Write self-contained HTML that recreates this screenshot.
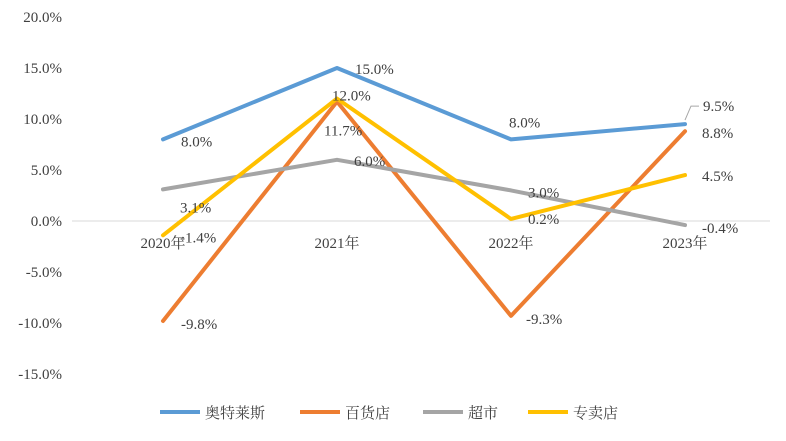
<!DOCTYPE html>
<html><head><meta charset="utf-8"><style>
body{margin:0;background:#fff;}
svg text{font-family:"Liberation Serif","Noto Serif CJK SC",serif;font-size:15px;fill:#404040;}
</style></head><body>
<svg id="c" width="786" height="436" xmlns="http://www.w3.org/2000/svg"></svg>
<script>
const categories=["2020年","2021年","2022年","2023年"];
const seriesNames=["奥特莱斯","百货店","超市","专卖店"];
const outlets=[8.0,15.0,8.0,9.5];
const depts=[-9.8,11.7,-9.3,8.8];
const supers=[3.1,6.0,3.0,-0.4];
const specialty=[-1.4,12.0,0.2,4.5];
const yTicks=[20,15,10,5,0,-5,-10,-15];
const colors=["#5B9BD5","#ED7D31","#A5A5A5","#FFC000"];
const all=[outlets,depts,supers,specialty];
// label offsets (layout only)
const offs=[[[18,2],[18,1],[-2,-17],[18,-18]],[[18,3],[-13,29],[15,3],[17,2]],[[17,18],[17,1],[17,2],[17,3]],[[17,2],[-5,-3],[17,0],[17,1]]];
const svg=document.getElementById('c');const NS="http://www.w3.org/2000/svg";
function y(v){return 221-v*10.2;}
function x(i){return 163+i*174;}
function mk(t,a,p){const e=document.createElementNS(NS,t);for(const k in a)e.setAttribute(k,a[k]);(p||svg).appendChild(e);return e;}
yTicks.forEach(t=>{const e=mk('text',{x:62,y:y(t)+5,'text-anchor':'end'});e.textContent=t.toFixed(1)+'%';

});
const ax=mk('line',{x1:72,x2:770,y1:y(0),y2:y(0),stroke:'#d9d9d9','stroke-width':1});


categories.forEach((c,i)=>{const e=mk('text',{x:x(i),y:248,'text-anchor':'middle'});e.textContent=c;

});
all.forEach((s,si)=>{
 const p=mk('polyline',{points:s.map((v,i)=>x(i)+','+y(v)).join(' '),fill:'none',stroke:colors[si],'stroke-width':4,'stroke-linejoin':'round','stroke-linecap':'round'});
 
 
});
all.forEach((s,si)=>{s.forEach((v,i)=>{const o=offs[si][i];
 const t=mk('text',{x:x(i)+o[0],y:y(v)+o[1]+5});t.textContent=v.toFixed(1)+'%';
 
 
 if(si===0&&i===3){const l=mk('polyline',{points:(x(i))+','+(y(v)-4)+' '+(x(i)+6)+','+(y(v)-18)+' '+(x(i)+14)+','+(y(v)-18),fill:'none',stroke:'#a6a6a6','stroke-width':1});
 
 }
});});
const lx=[160,300,423,528];
seriesNames.forEach((n,i)=>{const g=mk('g',{});
 
 
 mk('line',{x1:lx[i],x2:lx[i]+40,y1:412,y2:412,stroke:colors[i],'stroke-width':4},g);
 const t=mk('text',{x:lx[i]+45,y:418},g);t.textContent=n;});
</script>
</body></html>
